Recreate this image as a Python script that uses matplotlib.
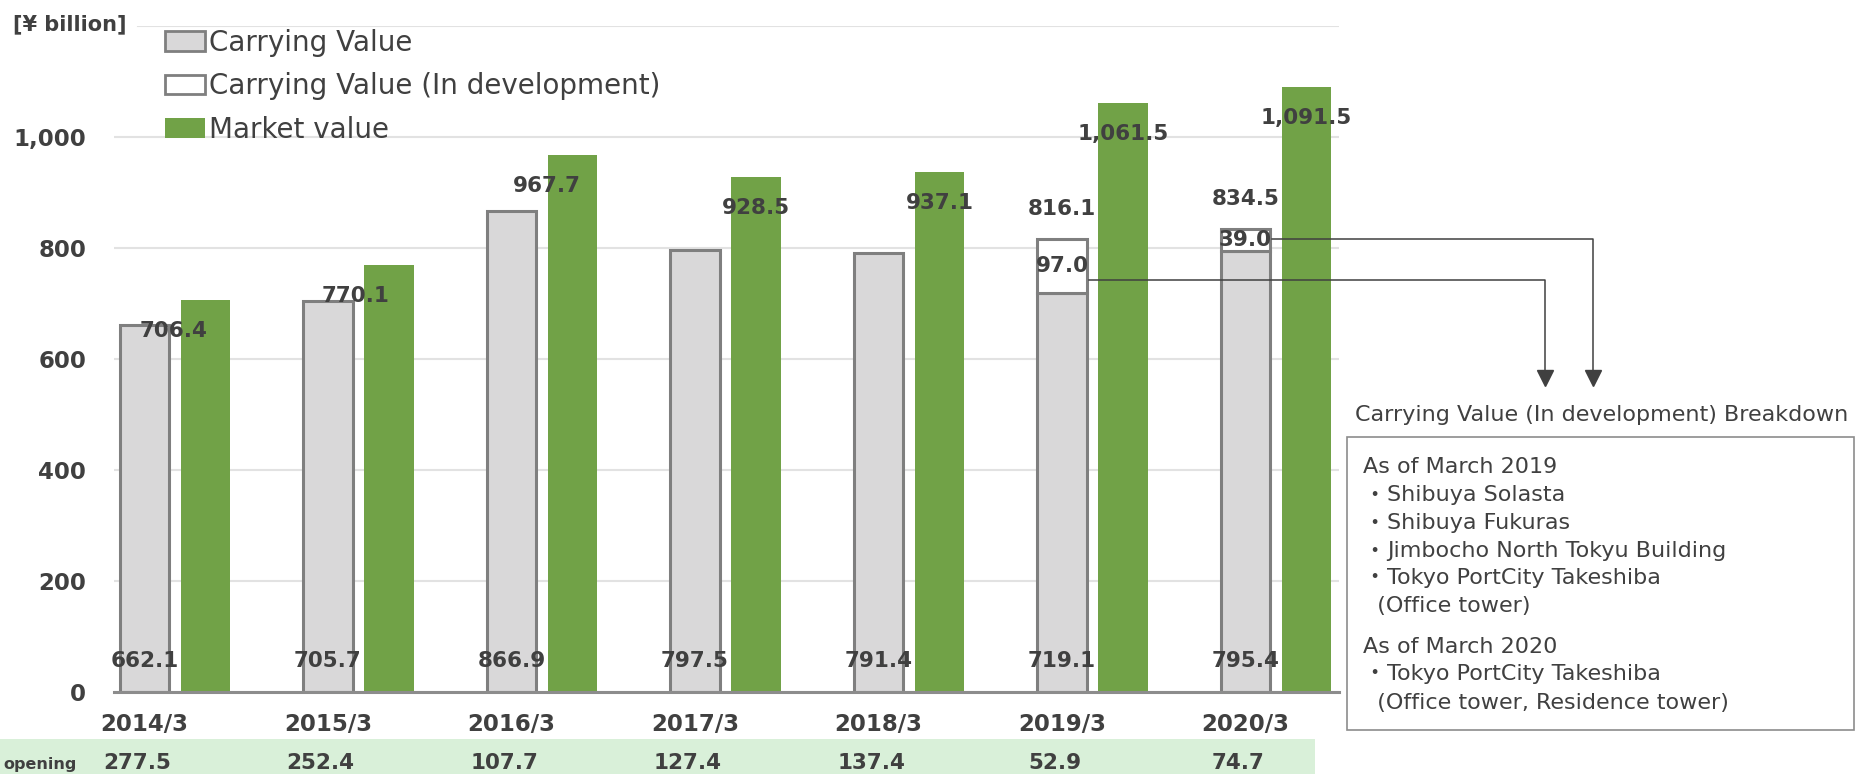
import matplotlib
matplotlib.use("Agg")
import matplotlib.pyplot as plt
from matplotlib.patches import Patch, Rectangle
from matplotlib.lines import Line2D
from matplotlib.transforms import blended_transform_factory
import numpy as np

# data
years = ["2014/3", "2015/3", "2016/3", "2017/3", "2018/3", "2019/3", "2020/3"]
carrying = [662.1, 705.7, 866.9, 797.5, 791.4, 719.1, 795.4]
in_dev = [0.0, 0.0, 0.0, 0.0, 0.0, 97.0, 39.0]
totals = [None, None, None, None, None, 816.1, 834.5]
market = [706.4, 770.1, 967.7, 928.5, 937.1, 1061.5, 1091.5]
opening = [277.5, 252.4, 107.7, 127.4, 137.4, 52.9, 74.7]

legend_labels = ["Carrying Value", "Carrying Value (In development)", "Market value"]
unit_label = "[¥ billion]"
row_label = "opening"
breakdown_title = "Carrying Value (In development) Breakdown"
breakdown_lines = [
    "As of March 2019",
    "・Shibuya Solasta",
    "・Shibuya Fukuras",
    "・Jimbocho North Tokyu Building",
    "・Tokyo PortCity Takeshiba",
    "  (Office tower)",
    "As of March 2020",
    "・Tokyo PortCity Takeshiba",
    "  (Office tower, Residence tower)",
]

# styling
W, H = 1861, 774
TXT = "#404040"
GREY = "#d9d8d9"
EDGE = "#7f7f7f"
GREEN = "#71a247"
BAND = "#d9f0d9"
plt.rcParams["font.family"] = ["DejaVu Sans", "Noto Sans CJK JP"]


def fx(x):
    return x / W


def fy(y):
    return 1 - y / H


fig = plt.figure(figsize=(W / 100, H / 100), dpi=100)
ax = fig.add_axes([fx(114), fy(692), fx(1339) - fx(114), fy(26.4) - fy(692)])

x = np.arange(len(years))
off = 0.166
bw = 0.27
xg = x - off
xm = x + off

ax.bar(xg, carrying, bw, color=GREY, edgecolor=EDGE, linewidth=2.2, zorder=3)
dev_bars = ax.bar(xg, in_dev, bw, bottom=carrying, color="white", edgecolor=EDGE,
                  linewidth=2.2, zorder=3)
# hide the zero-height stubs for years with no development value
for p, v in zip(dev_bars, in_dev):
    if v == 0:
        p.set_visible(False)
ax.bar(xm, market, bw, color=GREEN, zorder=3)

ax.set_xlim(-0.332, 6.343)
ax.set_ylim(0, 1200)
ax.set_yticks(np.arange(0, 1001, 200))
ax.yaxis.set_major_formatter(matplotlib.ticker.FuncFormatter(lambda v, p: "{:,.0f}".format(v)))
ax.set_xticks(xg)
ax.set_xticklabels(years)
ax.tick_params(axis="y", length=0, pad=20, labelsize=16.5, labelcolor=TXT)
ax.tick_params(axis="x", length=0, pad=15, labelsize=16.5, labelcolor=TXT)
for lab in ax.get_xticklabels() + ax.get_yticklabels():
    lab.set_fontweight("bold")
ax.grid(axis="y", color="#e2e2e2", linewidth=1.5, zorder=0)
ax.axhline(1200, xmin=(138 - 114) / (1339 - 114), color="#e2e2e2", linewidth=1.5, zorder=0)
for s in ["top", "right", "left"]:
    ax.spines[s].set_visible(False)
ax.spines["bottom"].set_color("#8c8c8c")
ax.spines["bottom"].set_linewidth(2.2)
ax.spines["bottom"].set_zorder(4)

lbl = dict(fontsize=15.5, fontweight="bold", color=TXT, ha="center", va="center",
           textcoords="offset pixels", zorder=5)

# carrying value labels near the base of the grey bars
for xi, v in zip(xg, carrying):
    ax.annotate("{:,.1f}".format(v), (xi, 0), xytext=(0, 31), **lbl)

# market value labels just under the top of the green bars
mv_dx = [-32, -33, -26, 0, 0, 0, 0]
for xi, v, dx in zip(xm, market, mv_dx):
    ax.annotate("{:,.1f}".format(v), (xi, v), xytext=(dx, -31), **lbl)

# in-development segment and total labels
for xi, c, d, t in zip(xg, carrying, in_dev, totals):
    if d > 0:
        ax.annotate("{:,.1f}".format(d), (xi, c + d / 2), xytext=(0, 0), **lbl)
        ax.annotate("{:,.1f}".format(t), (xi, t), xytext=(0, 30), **lbl)

# legend
handles = [
    Patch(facecolor=GREY, edgecolor=EDGE, linewidth=2),
    Patch(facecolor="white", edgecolor=EDGE, linewidth=2),
    Patch(facecolor=GREEN),
]
leg = fig.legend(handles, legend_labels, loc="upper left",
                 bbox_to_anchor=(fx(165), fy(29)), frameon=False, fontsize=20,
                 handlelength=1.45, handleheight=0.72, handletextpad=0.15,
                 labelspacing=0.55, borderpad=0, borderaxespad=0)
for t in leg.get_texts():
    t.set_color(TXT)

fig.text(fx(13), fy(24), unit_label, fontsize=15, fontweight="bold", color=TXT,
         ha="left", va="center")

# bottom band with the opening row
fig.add_artist(Rectangle((0, fy(774)), fx(1315), fy(739) - fy(774),
                         transform=fig.transFigure, facecolor=BAND, edgecolor="none", zorder=0))
fig.text(fx(3), fy(765), row_label, fontsize=11.5, fontweight="bold", color=TXT,
         ha="left", va="center")
band_tr = blended_transform_factory(ax.transData, fig.transFigure)
for xi, v in zip(xg, opening):
    fig.text(xi - 0.04, fy(763), "{:,.1f}".format(v), transform=band_tr, fontsize=15.5,
             fontweight="bold", color=TXT, ha="center", va="center")

# leader lines to the breakdown box
line_y = [280, 239]
drop_x = [1545, 1593]
tip_y = 385
dev_idx = [i for i, d in enumerate(in_dev) if d > 0]
for k, i in enumerate(dev_idx):
    x0 = ax.transData.transform((xg[i] + bw / 2, 0))[0] + 2
    xs = [fx(x0), fx(drop_x[k]), fx(drop_x[k])]
    ys = [fy(line_y[k]), fy(line_y[k]), fy(tip_y - 8)]
    fig.add_artist(Line2D(xs, ys, transform=fig.transFigure, color=TXT, linewidth=1.1))
    fig.add_artist(Line2D([fx(drop_x[k])], [fy(tip_y - 7)], transform=fig.transFigure,
                          marker="v", markersize=11, color=TXT, linestyle="none"))

# breakdown box
fig.text(fx(1355), fy(415), breakdown_title, fontsize=16, color=TXT, ha="left", va="center")
fig.add_artist(Rectangle((fx(1347), fy(730)), fx(1854) - fx(1347), fy(437) - fy(730),
                         transform=fig.transFigure, facecolor="none", edgecolor="#8c8c8c",
                         linewidth=1.2))
line_ys = [467, 495, 523, 551, 578, 606, 647, 674, 703]
for t, yy in zip(breakdown_lines, line_ys):
    if t.startswith("・"):
        # full-width katakana middle dot, then the item text
        fig.text(fx(1363), fy(yy), "・", fontsize=16, color=TXT, ha="left", va="center",
                 family=["Noto Sans CJK JP", "DejaVu Sans"])
        fig.text(fx(1387), fy(yy), t[1:], fontsize=16, color=TXT, ha="left", va="center")
    else:
        fig.text(fx(1363), fy(yy), t, fontsize=16, color=TXT, ha="left", va="center")

plt.savefig("out.png", dpi=100)
